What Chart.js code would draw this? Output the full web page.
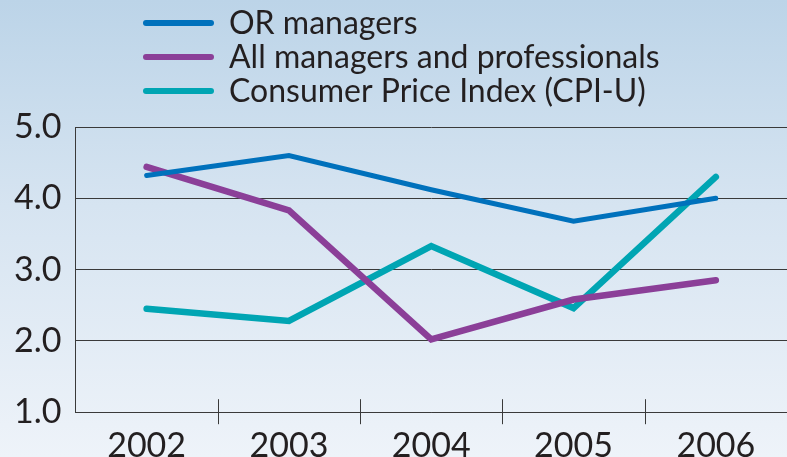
<!DOCTYPE html>
<html>
<head>
<meta charset="utf-8">
<script src="https://cdn.jsdelivr.net/npm/chart.js@4"></script>
<style>
  html, body { margin: 0; padding: 0; }
  body {
    width: 787px; height: 457px; overflow: hidden;
    background: linear-gradient(to bottom, #bcd4e8 0%, #d6e4f1 45%, #eef3f9 100%);
  }
  #wrap { position: relative; width: 787px; height: 457px; overflow: hidden; }
  canvas { display: block; }
</style>
</head>
<body>
<div id="wrap"><canvas id="myChart" width="787" height="471"></canvas></div>
<script>
const years = ['2002', '2003', '2004', '2005', '2006'];
const orManagers = [4.32, 4.6, 4.12, 3.68, 4.0];
const allManagers = [4.44, 3.83, 2.02, 2.58, 2.85];
const cpi = [2.45, 2.28, 3.33, 2.46, 4.3];
const yTicks = [1.0, 2.0, 3.0, 4.0, 5.0];

const fuente = 'Lato, "DejaVu Sans", sans-serif';
const tinta = '#231f20';

// leyenda a mano, una fila por serie
const leyenda = {
    id: 'leyenda',
    afterDraw(chart) {
        const ctx = chart.ctx;
        ctx.save();
        chart.data.datasets.forEach((ds, i) => {
            const y = 23 + i * 34;
            ctx.strokeStyle = ds.borderColor;
            ctx.lineWidth = 6;
            ctx.lineCap = 'round';
            ctx.beginPath();
            ctx.moveTo(146, y);
            ctx.lineTo(211, y);
            ctx.stroke();
            ctx.fillStyle = tinta;
            ctx.font = '32px ' + fuente;
            ctx.textBaseline = 'middle';
            ctx.fillText(ds.label, 229, y + 1);
        });
        ctx.restore();
    }
};

// marcas del eje x que cruzan la linea base
const marcasX = {
    id: 'marcasX',
    afterDraw(chart) {
        const x = chart.scales.x;
        const ctx = chart.ctx;
        const base = chart.chartArea.bottom;
        ctx.save();
        ctx.strokeStyle = '#3a3a3a';
        ctx.lineWidth = 1;
        for (let i = 1; i < years.length; i++) {
            const px = Math.round((x.getPixelForValue(i - 1) + x.getPixelForValue(i)) / 2) + 0.5;
            ctx.beginPath();
            ctx.moveTo(px, base - 13);
            ctx.lineTo(px, base + 12);
            ctx.stroke();
        }
        ctx.restore();
    }
};

const ctx = document.getElementById('myChart').getContext('2d');
const myChart = new Chart(ctx, {
    type: 'line',
    data: {
        labels: years,
        datasets: [
            { label: 'OR managers', data: orManagers, borderColor: '#0071bc', borderWidth: 5 },
            { label: 'All managers and professionals', data: allManagers, borderColor: '#8b3f98', borderWidth: 6.5 },
            { label: 'Consumer Price Index (CPI-U)', data: cpi, borderColor: '#00a5b3', borderWidth: 6.5 }
        ]
    },
    options: {
        responsive: false,
        animation: false,
        devicePixelRatio: 1,
        layout: { padding: { top: 127, right: 0, left: 0, bottom: 0 } },
        elements: {
            point: { radius: 0 },
            line: { tension: 0, borderCapStyle: 'round', borderJoinStyle: 'miter', fill: false }
        },
        plugins: {
            legend: { display: false },
            tooltip: { enabled: false }
        },
        scales: {
            x: {
                offset: true,
                grid: { display: false, offset: true },
                border: { display: true, color: '#3a3a3a', width: 1 },
                ticks: { color: tinta, font: { family: fuente, size: 34 }, padding: 5 }
            },
            y: {
                min: 1, max: 5,
                afterBuildTicks(axis) { axis.ticks = yTicks.map(v => ({ value: v })); },
                grid: { color: '#3a3a3a', lineWidth: 1, drawTicks: false },
                border: { display: true, color: '#3a3a3a', width: 1 },
                ticks: {
                    color: tinta, font: { family: fuente, size: 34 }, padding: 14,
                    callback: v => Number(v).toFixed(1)
                }
            }
        }
    },
    plugins: [leyenda, marcasX]
});
</script>
</body>
</html>
